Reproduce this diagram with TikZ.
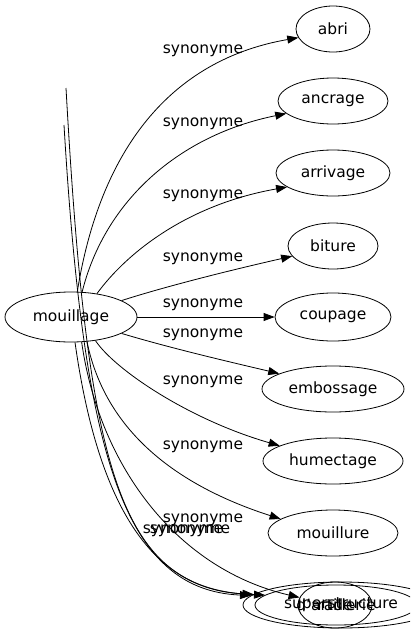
\documentclass[tikz,border=0pt]{standalone}
\usepackage{fontspec}
\setmainfont{DejaVu Sans}
\usetikzlibrary{shapes.geometric,arrows.meta}
\begin{document}
\begin{tikzpicture}[x=1pt,y=-1pt,
  word/.style={draw,ellipse,inner sep=0pt,line width=0.8pt,font=\fontsize{15.5}{18}\selectfont},
  lab/.style={inner sep=0pt,font=\fontsize{15.5}{18}\selectfont},
  edge/.style={line width=0.8pt,-{Triangle[length=11pt,width=8pt]}}]
\clip (0,0) rectangle (410,635);
\fill[white] (0,0) rectangle (410,635);
% nodes
\node[word,minimum width=132pt,minimum height=50pt] (m) at (71,317) {mouillage};
\node[word,minimum width=74pt,minimum height=46pt] (abri) at (333,29) {abri};
\node[word,minimum width=110pt,minimum height=46pt] (ancrage) at (333,101) {ancrage};
\node[word,minimum width=114pt,minimum height=46pt] (arrivage) at (333,173) {arrivage};
\node[word,minimum width=90pt,minimum height=46pt] (biture) at (333,246) {biture};
\node[word,minimum width=116pt,minimum height=48pt] (coupage) at (333,317) {coupage};
\node[word,minimum width=142pt,minimum height=46pt] (embossage) at (333,389) {embossage};
\node[word,minimum width=140pt,minimum height=46pt] (humectage) at (333,461) {humectage};
\node[word,minimum width=130pt,minimum height=46pt] (mouillure) at (333,533) {mouillure};
\node[word,minimum width=196pt,minimum height=46pt] (big) at (341,605) {superstructure};
\node[word,minimum width=162pt,minimum height=40pt] (medium) at (336,605) {d'artillerie};
\node[word,minimum width=74pt,minimum height=46pt] (rade) at (335,605) {rade};
\coordinate (t1) at (66,88);
\coordinate (t2) at (64,125);
% labels
\node[lab] (l1) at (203,51) {synonyme};
\node[lab] (l2) at (203,124) {synonyme};
\node[lab] (l3) at (203,196) {synonyme};
\node[lab] (l4) at (203,259) {synonyme};
\node[lab] (l5) at (203,305) {synonyme};
\node[lab] (l6) at (203,335) {synonyme};
\node[lab] (l7) at (203,382) {synonyme};
\node[lab] (l8) at (203,447) {synonyme};
\node[lab] (l9) at (203,520) {synonyme};
\node[lab] (l10) at (183,531) {synonyme};
\node[lab] (l11) at (190,531) {synonyme};
% edges
\draw[edge] (m.76) .. controls (100,150) and (170,60) .. (abri.194);
\draw[edge] (m.66) .. controls (105,200) and (180,135) .. (ancrage.195);
\draw[edge] (m.42) .. controls (125,255) and (185,205) .. (arrivage.197);
\draw[edge] (m.18) .. controls (170,285) and (240,268) .. (biture.194);
\draw[edge] (m.east) -- (coupage.west);
\draw[edge] (m.-18) .. controls (170,348) and (230,362) .. (embossage.164);
\draw[edge] (m.-44) .. controls (115,370) and (190,420) .. (humectage.164);
\draw[edge] (m.-57) .. controls (105,430) and (175,485) .. (mouillure.165);
\draw[edge] (m.-67) .. controls (100,470) and (180,570) .. (rade.168);
\draw[edge] (m.-81) .. controls (100,520) and (160,590) .. (big.173);
\draw[edge] (t1) .. controls (88,480) and (120,590) .. (medium.172);
\draw[edge] (t2) .. controls (84,460) and (125,590) .. (big.174);
\end{tikzpicture}
\end{document}
